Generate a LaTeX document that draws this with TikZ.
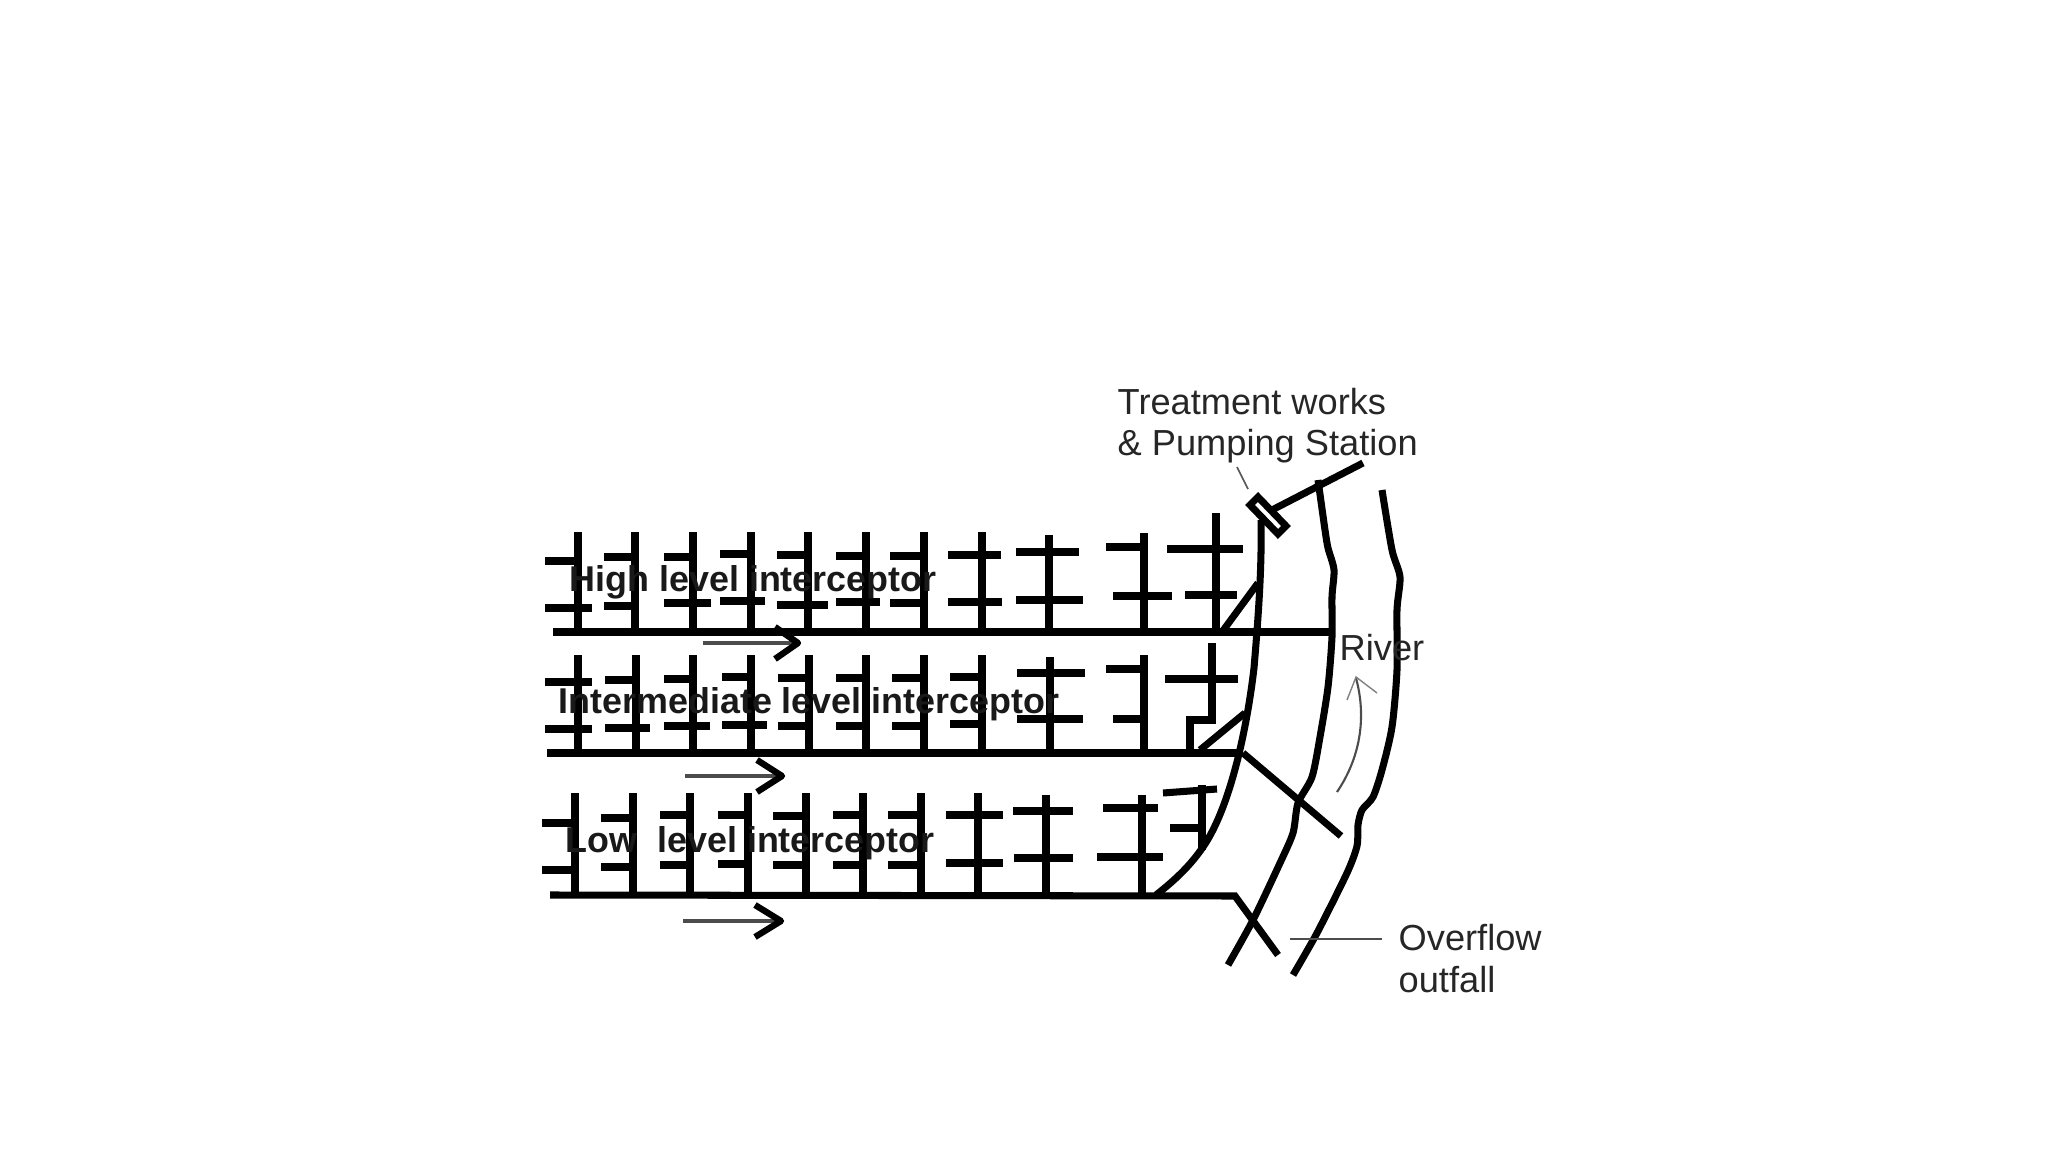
\documentclass[tikz,border=0pt]{standalone}
\usepackage{fontspec}
\setmainfont{Liberation Sans}
\tikzset{
  px/.style={x=0.01cm,y=-0.01cm},
  pipe/.style={line width=2pt,black,line cap=butt,line join=miter},
  bank/.style={line width=2pt,black,line cap=butt,line join=round},
  thinarrow/.style={line width=0.9pt,black!70},
  headarrow/.style={line width=1.8pt,black,line join=round},
  leader/.style={line width=0.5pt,black!65},
  boldlabel/.style={anchor=base west,inner sep=0pt,font=\fontsize{10.2}{13}\selectfont\bfseries,text=black!90},
  plainlabel/.style={anchor=base west,inner sep=0pt,font=\fontsize{10.3}{12}\selectfont,text=black!85}
}
\begin{document}
\begin{tikzpicture}[px]
\useasboundingbox (0,0) rectangle (2048,1152);
% High level: x / top / upper y / ux0 / ux1 / lower y / lx0 / lx1
\foreach \x/\t/\uy/\ua/\ub/\ly/\la/\lb in {
 578/532/561/545/578/608/545/592,
 635/532/557/604/635/606/604/635,
 693/532/557/664/693/603/664/711,
 751/532/554/720/751/601/720/765,
 808/532/555/777/808/605/777/828,
 866/532/556/836/866/602/836/880,
 924/532/556/890/924/603/890/924,
 982/532/555/948/1001/602/948/1002,
 1049/535/552/1016/1079/600/1016/1083,
 1144/533/547/1106/1144/596/1113/1172,
 1216/513/549/1167/1243/595/1185/1237}{
  \draw[pipe] (\x,\t) -- (\x,632);
  \draw[pipe] (\ua,\uy) -- (\ub,\uy);
  \draw[pipe] (\la,\ly) -- (\lb,\ly);
}
\draw[pipe] (553,632) -- (1330,632);
% Intermediate level
\foreach \x/\t/\uy/\ua/\ub/\ly/\la/\lb in {
 578/655/682/545/592/729/545/592,
 636/655/680/605/636/728/605/650,
 693/655/679/664/693/726/664/710,
 751/655/677/722/751/725/722/767,
 809/655/678/778/809/726/778/809,
 866/655/678/836/866/726/836/866,
 924/655/678/892/924/726/892/924,
 982/655/677/950/982/724/950/982,
 1050/657/673/1017/1085/719/1017/1083,
 1144/655/669/1106/1144/719/1113/1144}{
  \draw[pipe] (\x,\t) -- (\x,753);
  \draw[pipe] (\ua,\uy) -- (\ub,\uy);
  \draw[pipe] (\la,\ly) -- (\lb,\ly);
}
\draw[pipe] (1212,643) -- (1212,720) -- (1190,720) -- (1190,753);
\draw[pipe] (1165,679) -- (1238,679);
\draw[pipe] (547,753) -- (1243,753);
% Low level
\foreach \x/\t/\uy/\ua/\ub/\ly/\la/\lb in {
 575/793/823/542/575/870/542/575,
 633/793/818/601/633/867/601/633,
 690/793/815/660/690/865/660/690,
 748/793/815/718/748/864/718/748,
 806/793/816/773/806/865/773/806,
 863/793/815/833/863/865/833/863,
 921/793/815/888/921/865/888/921,
 978/793/815/946/1003/863/946/1003,
 1046/795/811/1013/1073/858/1014/1073,
 1142/795/808/1103/1158/857/1097/1163}{
  \draw[pipe] (\x,\t) -- (\x,895);
  \draw[pipe] (\ua,\uy) -- (\ub,\uy);
  \draw[pipe] (\la,\ly) -- (\lb,\ly);
}
\draw[pipe] (1202,785) -- (1202,850);
\draw[pipe] (1163,793) -- (1217,789);
\draw[pipe] (1170,828) -- (1202,828);
\draw[pipe] (550,895) -- (1235,896) -- (1278,955);
% Branches to the high level sewer
\draw[pipe] (1222,632) -- (1258,583);
\draw[pipe] (1200,750) -- (1245,713);
\draw[pipe] (1243,753) -- (1341,836);
% Left bank: main trunk
\draw[bank] (1261,520) .. controls (1262,570) and (1258,620) .. (1254,668)
  .. controls (1248,720) and (1232,805) .. (1203,847) .. controls (1190,866) and (1175,880) .. (1156,895);
% Middle line
\draw[bank] plot[smooth,tension=0.45] coordinates {(1318,480) (1325,530) (1328,548) (1334,570) (1332,597) (1332,637)
  (1328,687) (1320,737) (1312,777) (1298,803) (1293,833) (1280,863) (1253,920) (1228,965)};
% Right line
\draw[bank] plot[smooth,tension=0.45] coordinates {(1382,490) (1392,550) (1400,577) (1397,610) (1397,670) (1392,727)
  (1382,770) (1373,797) (1362,810) (1358,825) (1357,846) (1347,873) (1317,933) (1293,975)};
% Treatment works box
\draw[line width=2pt,black,fill=white] (1250,505) -- (1258,497) -- (1286,526) -- (1278,534) -- cycle;
\draw[pipe] (1272,510) -- (1363,463);
% Flow arrows
\foreach \sx/\ex/\ya/\hx/\hy in {703/798/643/775/16, 685/782/776/757/16, 683/781/921/755/16}{
  \draw[thinarrow] (\sx,\ya) -- (\ex,\ya);
  \draw[headarrow] (\hx,\ya-\hy) -- (\ex,\ya) -- (\hx,\ya+\hy);
}
% River flow arrow
\draw[line width=0.6pt,black!70] (1337,792) .. controls (1352,770) and (1370,730) .. (1356,678);
\draw[line width=0.4pt,black!50] (1347,700) -- (1356,677) -- (1377,693);
% Leaders
\coordinate (tleaderA) at (1237,467);
\coordinate (tleaderB) at (1248,489);
\coordinate (oleaderA) at (1290,939);
\coordinate (oleaderB) at (1382,939);
\draw[leader] (tleaderA) -- (tleaderB);
\draw[line width=0.8pt,black!70] (oleaderA) -- (oleaderB);
% Labels
\node[boldlabel] (high) at (569,592) {High level interceptor};
\node[boldlabel] (inter) at (558,713) {Intermediate level interceptor};
\node[boldlabel] (low) at (565,852) {Low\ \ level interceptor};
\node[plainlabel] (treat1) at (1117,415) {Treatment works};
\node[plainlabel] (treat2) at (1117,456) {\& Pumping Station};
\node[plainlabel] (river) at (1339,660) {River};
\node[plainlabel] (over1) at (1398,950) {Overflow};
\node[plainlabel] (over2) at (1398,992) {outfall};
\end{tikzpicture}
\end{document}
